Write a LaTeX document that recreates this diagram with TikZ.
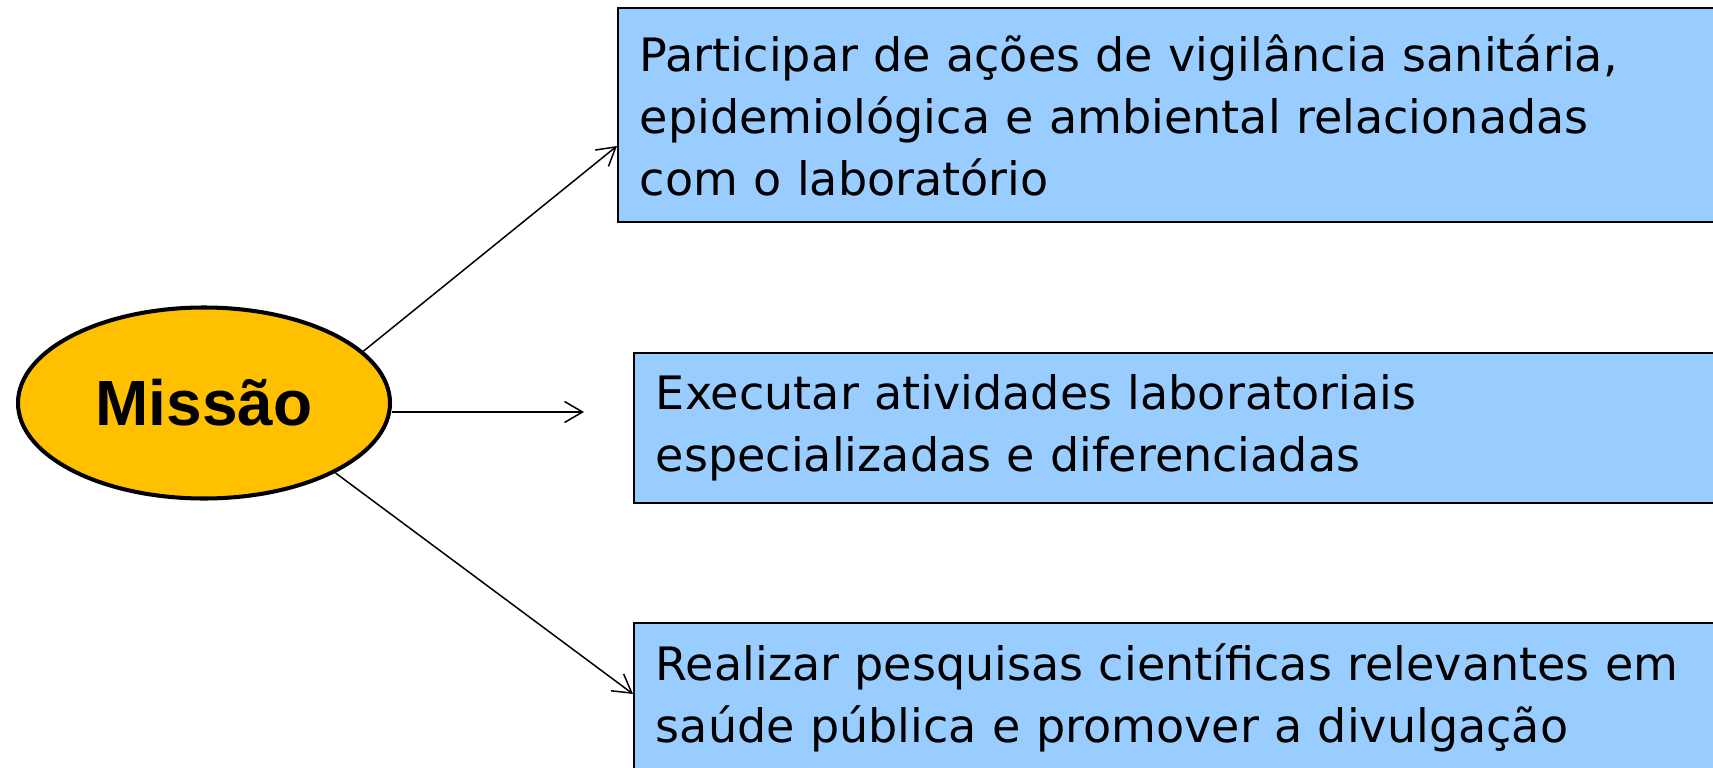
\documentclass[tikz,border=0pt]{standalone}
\usepackage{fontspec}
\setmainfont{DejaVu Sans}
\newfontfamily\missaofont{Liberation Sans}
\usetikzlibrary{shapes.geometric,arrows.meta}
\definecolor{ouro}{HTML}{FFC000}
\definecolor{azulclaro}{HTML}{99CCFF}
\newcommand{\acaoum}{
Participar de ações de vigilância sanitária,\\
epidemiológica e ambiental relacionadas\\
com o laboratório
}
\newcommand{\acaodois}{
Executar atividades laboratoriais\\
especializadas e diferenciadas
}
\newcommand{\acaotres}{
Realizar pesquisas científicas relevantes em\\
saúde pública e promover a divulgação
}
\newcommand{\caixaw}{22.4cm}
\newcommand{\textow}{\dimexpr\caixaw-0.88cm\relax}
\tikzset{
    caixa/.style={rectangle, draw=black, line width=1.1pt, fill=azulclaro, anchor=north west,
        minimum width=\caixaw, text width=\textow, inner xsep=0.44cm, align=left,
        font=\fontsize{26.2pt}{35.3pt}\selectfont},
    seta/.style={line width=0.85pt, -{Straight Barb[length=3.6mm, width=4.2mm, line width=0.85pt]}}
}
\begin{document}
\begin{tikzpicture}
    \useasboundingbox (0,0) rectangle (34.26,-15.36);
    \node[ellipse, draw, line width=2.3pt, fill=ouro, minimum width=7.44cm, minimum height=3.82cm, inner sep=0pt,
        font=\missaofont\bfseries\fontsize{36.4pt}{40pt}\selectfont] (missao) at (4.08,-8.06) {Missão};
    \node[caixa, minimum height=4.28cm] (acao1) at (12.34,-0.14) {\acaoum};
    \node[caixa, minimum height=3.0cm] (acao2) at (12.66,-7.04) {\acaodois};
    \node[caixa, minimum height=3.0cm] (acao3) at (12.66,-12.44) {\acaotres};
    \coordinate (fim2) at (11.68,-8.24);
    \draw[seta] (missao.18) -- ([yshift=-0.62cm]acao1.west);
    \draw[seta] (fim2 -| missao.east) -- (fim2);
    \draw[seta] (missao.-28.3) -- ([yshift=0.08cm]acao3.west);
\end{tikzpicture}
\end{document}
